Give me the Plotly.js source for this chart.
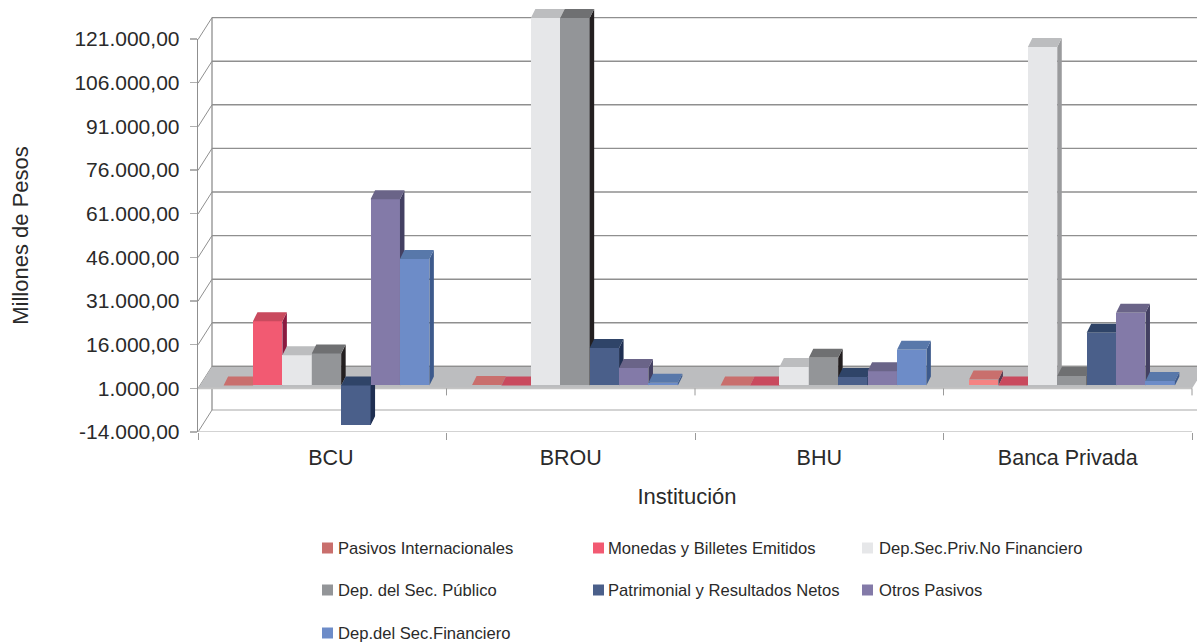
<!DOCTYPE html>
<html><head><meta charset="utf-8">
<script src="https://cdn.plot.ly/plotly-3.0.1.min.js"></script>
<style>html,body{margin:0;padding:0;background:#fff}#c{width:1197px;height:642px}</style>
</head><body><div id="c"></div>
<script>
const categories = ["BCU","BROU","BHU","Banca Privada"];
const seriesNames = ["Pasivos Internacionales","Monedas y Billetes Emitidos","Dep.Sec.Priv.No Financiero","Dep. del Sec. Público","Patrimonial y Resultados Netos","Otros Pasivos","Dep.del Sec.Financiero"];
const pasivosInternacionales = [1000, 1100, 1000, 3000];
const monedasBilletes = [23100, 1000, 1000, 1000];
const depPrivado = [11400, 127400, 7300, 117400];
const depPublico = [12000, 127400, 10500, 4200];
const patrimonial = [-12700, 13900, 3900, 19100];
const otrosPasivos = [65000, 7000, 5900, 26000];
const depFinanciero = [44500, 1900, 13300, 2500];
const tickValues = [-14000,1000,16000,31000,46000,61000,76000,91000,106000,121000];
const tickLabels = ["-14.000,00","1.000,00","16.000,00","31.000,00","46.000,00","61.000,00","76.000,00","91.000,00","106.000,00","121.000,00"];

const allSeries = [pasivosInternacionales,monedasBilletes,depPrivado,depPublico,patrimonial,otrosPasivos,depFinanciero];
const frontCol = ["#f58383","#f25a72","#e6e7e9","#939598","#4a5f8a","#837aa8","#6d8cc8"];
const topCol   = ["#c96f6d","#c94a5e","#bcbdbf","#6f7072","#2f4468","#6a6488","#5878aa"];
const sideCol  = ["#5a3a50","#8a1a40","#9a9b9d","#231f20","#1f2f52","#434062","#3d5a8c"];
const legendCol= ["#c96f6d","#f25a72","#e6e7e9","#939598","#4a5f8a","#837aa8","#6d8cc8"];

// geometry of the projection
const L=198, T=8, B=432, W=999, H=424, CAT=248.5, PXV=43.6/15000;
const xMax=W/CAT, yMin=-14000, yMax=yMin+H/PXV, BASE=1000;
const wallDx=14/CAT, wallDy=22/PXV, barDx=4.5/CAT, barDy=9/PXV, lift=3/PXV, bw=29.4/CAT, shift=0.517;
const txt="Liberation Sans, Arial, sans-serif", ink="#2a2a2a", gridC="#8f8f8f", liteC="#c4c4c4";

const traces=[], layout={
  width:1197,height:642,showlegend:false,paper_bgcolor:"#fff",plot_bgcolor:"rgba(0,0,0,0)",
  margin:{l:L,r:0,t:T,b:642-B,pad:0,autoexpand:false},bargap:0,shapes:[],annotations:[],hovermode:false,
  font:{family:txt,color:ink},
  xaxis:{range:[0,xMax],domain:[0,1],anchor:"y",showgrid:false,zeroline:false,showline:false,ticks:"outside",ticklen:7,tickwidth:1,tickcolor:"#9a9a9a",tickmode:"array",tickvals:[0,1,2,3,4],ticktext:["","","","",""]},
  yaxis:{range:[yMin,yMax],domain:[0,1],anchor:"x",showgrid:false,zeroline:false,showline:false,showticklabels:false,ticks:""},
  xaxis9:{range:[0,xMax*0.979],domain:[0,0.979],anchor:"y9",showgrid:false,zeroline:false,showline:false,ticks:"",tickmode:"array",
    tickvals:[0.535,1.5,2.5,3.5],ticktext:categories,ticklabelstandoff:10,tickfont:{size:21.5,color:ink},
    title:{text:"Institución",font:{size:22,color:ink},standoff:20}},
  yaxis9:{range:[yMin,121000],domain:[0,(B-39)/H],anchor:"x9",showgrid:false,zeroline:false,showline:true,linecolor:"#8f8f8f",linewidth:1.3,ticks:"outside",ticklen:7,tickwidth:1.2,tickcolor:"#b0b0b0",tickmode:"array",
    tickvals:tickValues,ticktext:tickLabels,tickfont:{size:21,color:ink},ticklabelstandoff:6,
    title:{text:"Millones de Pesos",font:{size:22,color:ink},standoff:39}}
};
function seg(x0,y0,x1,y1,c,w){layout.shapes.push({type:"line",xref:"x",yref:"y",x0,y0,x1,y1,layer:"below",line:{color:c,width:w}});}
// walls
tickValues.forEach(v=>{
  const c=v===yMin?liteC:gridC;
  seg(wallDx,v+wallDy,xMax,v+wallDy,c,1.4);
  seg(0,v,wallDx,v+wallDy,gridC,1);
});
seg(wallDx,yMin+wallDy,wallDx,121000+wallDy,gridC,1.3);
// floor
layout.shapes.push({type:"path",xref:"x",yref:"y",layer:"below",fillcolor:"#bcbdbf",line:{width:0},
  path:`M0,${BASE}L4,${BASE}L${4+wallDx},${BASE+wallDy}L${wallDx},${BASE+wallDy}Z`});
seg(wallDx,BASE+wallDy,xMax,BASE+wallDy,gridC,1.2);
seg(0,BASE,4,BASE,liteC,1.6);
seg(0,yMin,4,yMin,liteC,1.6);
[1,2,3,4].forEach(i=>seg(i,BASE,i,BASE-7/PXV,"#9a9a9a",1));

// axes carrying the tick labels and titles need a subplot of their own
traces.push({type:"scatter",mode:"none",x:[1.5],y:[1000],xaxis:"x9",yaxis:"y9",hoverinfo:"skip"});

// bars and their depth faces, each series on its own overlay so later bars cover earlier ones
allSeries.forEach((vals,k)=>{
  const n=k+1, xa=n===1?"x":"x"+n, ya=n===1?"y":"y"+n;
  if(n>1){
    layout["xaxis"+n]={range:[0,xMax],overlaying:"x",anchor:ya,visible:false};
    layout["yaxis"+n]={range:[yMin,yMax],overlaying:"y",anchor:xa,visible:false};
  }
  const cx=categories.map((_,i)=>i+shift), off=(k-3.5)*bw;
  const topX=[],topY=[],sideX=[],sideY=[];
  vals.forEach((v,i)=>{
    const x0=cx[i]+off,x1=x0+bw,hi=Math.max(v,BASE)+lift,lo=Math.min(v,BASE)+lift;
    topX.push(x0,x1,x1+barDx,x0+barDx,x0,null);
    topY.push(hi,hi,hi+barDy,hi+barDy,hi,null);
    sideX.push(x1,x1,x1+barDx,x1+barDx,x1,null);
    sideY.push(lo,hi,hi+barDy,lo+barDy,lo,null);
  });
  traces.push({type:"bar",name:seriesNames[k],x:cx,y:vals.map(v=>v-BASE),base:BASE+lift,width:bw,offset:off,xaxis:xa,yaxis:ya,marker:{color:frontCol[k],line:{width:0}}});
  traces.push({type:"scatter",mode:"lines",x:sideX,y:sideY,fill:"toself",fillcolor:sideCol[k],line:{width:0},xaxis:xa,yaxis:ya,hoverinfo:"skip"});
  traces.push({type:"scatter",mode:"lines",x:topX,y:topY,fill:"toself",fillcolor:topCol[k],line:{width:0},xaxis:xa,yaxis:ya,hoverinfo:"skip"});
});

// legend
const legCols=[322,593,862], legText=[337,607,878], legRows=[548,590,633];
seriesNames.forEach((name,k)=>{
  const px=legCols[k%3], py=legRows[Math.floor(k/3)];
  layout.shapes.push({type:"rect",xref:"paper",yref:"paper",x0:(px-L)/W,x1:(px+11-L)/W,y0:(B-py-5.5)/H,y1:(B-py+5.5)/H,fillcolor:legendCol[k],line:{width:0}});
  layout.annotations.push({xref:"paper",yref:"paper",x:(legText[k%3]-L)/W,y:(B-py)/H,xanchor:"left",yanchor:"middle",showarrow:false,text:name,font:{size:16.6,color:ink,family:txt},borderpad:0});
});
Plotly.newPlot("c",traces,layout,{displayModeBar:false,staticPlot:true});
</script></body></html>
